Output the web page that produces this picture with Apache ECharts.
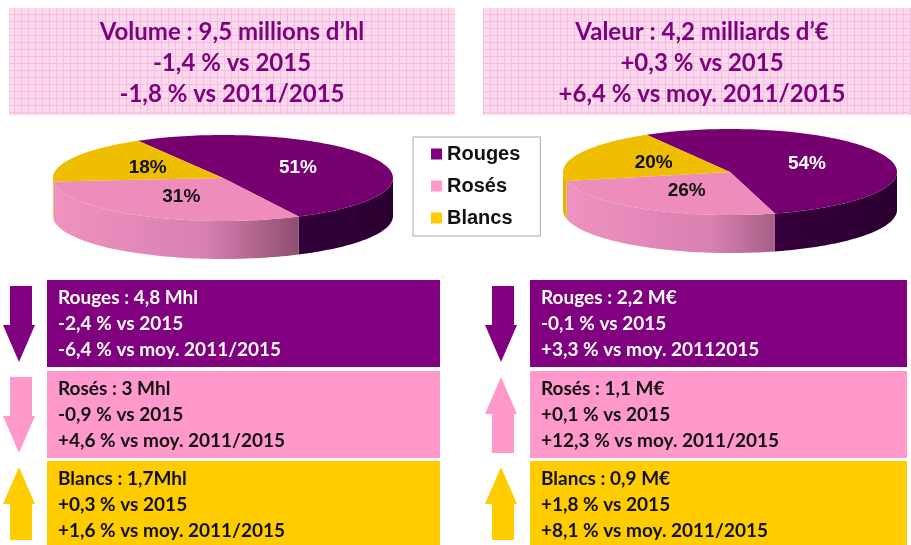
<!DOCTYPE html>
<html>
<head>
<meta charset="utf-8">
<script src="https://cdn.jsdelivr.net/npm/echarts@6/dist/echarts.min.js"></script>
<style>
    html, body { margin: 0; padding: 0; background: #fff; }
    #chart { width: 911px; height: 545px; }
</style>
</head>
<body>
<div id="chart"></div>
<script>
(function () {
    var categories = ['Rouges', 'Rosés', 'Blancs'];
    var volumeShares = [51, 31, 18];
    var valueShares = [54, 26, 20];

    var volumeHeader = ['Volume : 9,5 millions d’hl', '-1,4 % vs 2015', '-1,8 % vs 2011/2015'];
    var valueHeader = ['Valeur : 4,2 milliards d’€', '+0,3 % vs 2015', '+6,4 % vs moy. 2011/2015'];

    var volumeDetails = [
        ['Rouges : 4,8 Mhl', '-2,4 % vs 2015', '-6,4 % vs moy. 2011/2015'],
        ['Rosés : 3 Mhl', '-0,9 % vs 2015', '+4,6 % vs moy. 2011/2015'],
        ['Blancs : 1,7Mhl', '+0,3 % vs 2015', '+1,6 % vs moy. 2011/2015']
    ];
    var valueDetails = [
        ['Rouges : 2,2 M€', '-0,1 % vs 2015', '+3,3 % vs moy. 20112015'],
        ['Rosés : 1,1 M€', '+0,1 % vs 2015', '+12,3 % vs moy. 2011/2015'],
        ['Blancs : 0,9 M€', '+1,8 % vs 2015', '+8,1 % vs moy. 2011/2015']
    ];
    // change vs 2015, gives the arrow direction
    var volumeVs2015 = [-2.4, -0.9, 0.3];
    var valueVs2015 = [-0.1, 0.1, 1.8];

    var mainColors = ['#800080', '#ff99cc', '#ffcc00'];
    var topColors = ['#770071', '#ee8cbb', '#efbe00'];
    var sideStops = [
        [[0, '#6a0068'], [0.7, '#33003a'], [1, '#2a0030']],
        [[0, '#f092c2'], [0.45, '#d880b0'], [0.72, '#8e4f72'], [1, '#60304a']],
        [[0, '#e6b400'], [1, '#705500']]
    ];
    var labelColors = ['#ffffff', '#111111', '#111111'];

    var START = 240;
    var DEPTH = 38;

    var myChart = echarts.init(document.getElementById('chart'));

    // pink checked pattern of the header boxes
    var tile = document.createElement('canvas');
    tile.width = 7;
    tile.height = 7;
    var ctx = tile.getContext('2d');
    ctx.fillStyle = '#fcd9ee';
    ctx.fillRect(0, 0, 7, 7);
    ctx.fillStyle = '#f7bddd';
    ctx.fillRect(0, 0, 7, 1);
    ctx.fillRect(0, 0, 1, 7);

    function sliceRenderer(shares, i) {
        return function (params, api) {
            var total = 0, before = 0;
            shares.forEach(function (s, j) {
                total += s;
                if (j < i) before += s;
            });
            var a0 = START + before / total * 360;
            var a1 = a0 + api.value(0) / total * 360;
            function pt(a, r) {
                var rad = a * Math.PI / 180;
                return api.coord([r * Math.cos(rad), r * Math.sin(rad)]);
            }
            function arc(s, e) {
                var pts = [];
                for (var a = s; a < e; a += 1.5) pts.push(pt(a, 1));
                pts.push(pt(e, 1));
                return pts;
            }
            var children = [];
            var xl = api.coord([-1, 0])[0], xr = api.coord([1, 0])[0];
            for (var k = 0; k < 3; k++) {
                var s = Math.max(a0, k * 360), e = Math.min(a1, k * 360 + 180);
                if (s < e) {
                    var upper = arc(s, e);
                    var lower = upper.map(function (p) { return [p[0], p[1] + DEPTH]; }).reverse();
                    children.push({
                        type: 'polygon',
                        shape: { points: upper.concat(lower) },
                        style: {
                            fill: new echarts.graphic.LinearGradient(xl, 0, xr, 0,
                                sideStops[i].map(function (st) { return { offset: st[0], color: st[1] }; }), true)
                        }
                    });
                }
            }
            children.push({
                type: 'polygon',
                shape: { points: [pt(0, 0)].concat(arc(a0, a1)) },
                style: { fill: topColors[i] }
            });
            var mid = pt((a0 + a1) / 2, 0.5);
            children.push({
                type: 'text',
                x: mid[0],
                y: mid[1],
                style: {
                    text: api.value(0) + '%',
                    fill: labelColors[i],
                    font: 'bold 19px "Liberation Sans", Arial, sans-serif',
                    align: 'center',
                    verticalAlign: 'middle'
                }
            });
            return { type: 'group', children: children };
        };
    }

    var series = [];
    [volumeShares, valueShares].forEach(function (shares, p) {
        categories.forEach(function (name, i) {
            series.push({
                type: 'custom',
                name: name,
                xAxisIndex: p,
                yAxisIndex: p,
                itemStyle: { color: mainColors[i] },
                renderItem: sliceRenderer(shares, i),
                data: [[shares[i]]],
                silent: true
            });
        });
    });

    var graphics = [];
    function header(x, w, cx, lines) {
        graphics.push({
            type: 'rect',
            shape: { x: x, y: 8, width: w, height: 107 },
            style: { fill: { image: tile, repeat: 'repeat' } },
            z: 0
        });
        lines.forEach(function (t, j) {
            graphics.push({
                type: 'text',
                x: cx,
                y: 32 + j * 31,
                style: {
                    text: t,
                    fill: '#7f007f',
                    font: 'bold 24px Lato, "Open Sans", sans-serif',
                    align: 'center',
                    verticalAlign: 'middle'
                },
                z: 1
            });
        });
    }
    header(9, 446, 232, volumeHeader);
    header(483, 428, 702, valueHeader);

    var boxTops = [280, 371, 461];
    var boxHeights = [87, 87, 84];
    function details(x, w, arrowX, rows, changes) {
        rows.forEach(function (lines, i) {
            var y0 = boxTops[i];
            graphics.push({
                type: 'rect',
                shape: { x: x, y: y0, width: w, height: boxHeights[i] },
                style: { fill: mainColors[i] }
            });
            lines.forEach(function (t, j) {
                graphics.push({
                    type: 'text',
                    x: x + 11,
                    y: y0 + 18 + j * 26,
                    style: {
                        text: t,
                        fill: i === 0 ? '#ffffff' : '#111111',
                        font: 'bold 19px Lato, "Open Sans", sans-serif',
                        verticalAlign: 'middle'
                    }
                });
            });
            // arrow: 32 wide, shaft 22 wide
            var top = y0 + 6, bottom = y0 + boxHeights[i] - 5;
            var l = arrowX, r = arrowX + 32, sl = arrowX + 7, sr = arrowX + 29;
            var pts;
            if (changes[i] < 0) {
                var hb = bottom - 37;
                pts = [[sl, top], [sr, top], [sr, hb], [r, hb], [(l + r) / 2, bottom], [l, hb], [sl, hb]];
            } else {
                var ht = top + 37;
                pts = [[(l + r) / 2, top], [r, ht], [sr, ht], [sr, bottom], [sl, bottom], [sl, ht], [l, ht]];
            }
            graphics.push({
                type: 'polygon',
                shape: { points: pts },
                style: { fill: mainColors[i] }
            });
        });
    }
    details(47, 393, 3, volumeDetails, volumeVs2015);
    details(530, 377, 485, valueDetails, valueVs2015);

    function hiddenAxis() {
        return { type: 'value', min: -1, max: 1, show: false };
    }

    myChart.setOption({
        animation: false,
        grid: [
            { left: 53, top: 135, width: 340, height: 86 },
            { left: 563, top: 129, width: 334, height: 86 }
        ],
        xAxis: [
            Object.assign(hiddenAxis(), { gridIndex: 0 }),
            Object.assign(hiddenAxis(), { gridIndex: 1 })
        ],
        yAxis: [
            Object.assign(hiddenAxis(), { gridIndex: 0, inverse: true }),
            Object.assign(hiddenAxis(), { gridIndex: 1, inverse: true })
        ],
        legend: {
            left: 413,
            top: 137,
            orient: 'vertical',
            data: categories,
            icon: 'rect',
            itemWidth: 11,
            itemHeight: 11,
            itemGap: 10,
            padding: [6, 20, 7, 18],
            borderColor: '#a6a6a6',
            borderWidth: 1,
            selectedMode: false,
            textStyle: {
                color: '#111',
                fontFamily: '"Liberation Sans", Arial, sans-serif',
                fontWeight: 'bold',
                fontSize: 20,
                lineHeight: 22
            }
        },
        graphic: graphics,
        series: series
    });
})();
</script>
</body>
</html>
